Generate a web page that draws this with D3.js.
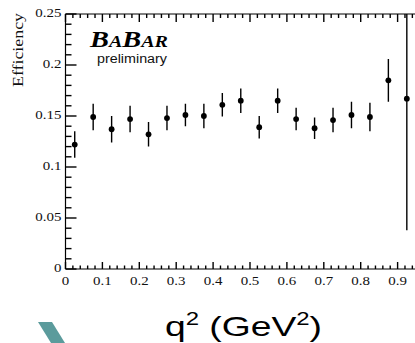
<!DOCTYPE html>
<html>
<head>
<meta charset="utf-8">
<script src="https://cdn.jsdelivr.net/npm/d3@7"></script>
<style>
  html, body { margin: 0; padding: 0; background: #fff; }
  svg { display: block; }
</style>
</head>
<body>
<svg id="chart" width="415" height="343"></svg>
<script>
// Efficiency per q^2 bin (bin centres in GeV^2)
const q2Bins = [0.025, 0.075, 0.125, 0.175, 0.225, 0.275, 0.325, 0.375, 0.425, 0.475,
                0.525, 0.575, 0.625, 0.675, 0.725, 0.775, 0.825, 0.875, 0.925];
const efficiency = [0.122, 0.149, 0.137, 0.147, 0.132, 0.148, 0.151, 0.150, 0.161, 0.165,
                    0.139, 0.165, 0.147, 0.138, 0.146, 0.151, 0.149, 0.185, 0.167];
const effError = [0.013, 0.013, 0.013, 0.013, 0.012, 0.012, 0.011, 0.012, 0.0115, 0.012,
                  0.011, 0.012, 0.011, 0.0105, 0.012, 0.013, 0.014, 0.021, 0.129];

const xMajorTicks = [0, 0.1, 0.2, 0.3, 0.4, 0.5, 0.6, 0.7, 0.8, 0.9];
const xTickLabels = ["0", "0.1", "0.2", "0.3", "0.4", "0.5", "0.6", "0.7", "0.8", "0.9"];
const yMajorTicks = [0, 0.05, 0.1, 0.15, 0.2, 0.25];
const yTickLabels = ["0", "0.05", "0.1", "0.15", "0.2", "0.25"];

const svg = d3.select("#chart");
const serif = "'Liberation Serif', 'DejaVu Serif', serif";
const sans = "'Liberation Sans', Arial, sans-serif";

const x = d3.scaleLinear().domain([0, 1]).range([65.5, 434.5]);
const y = d3.scaleLinear().domain([0, 0.25]).range([269, 14]);

const minorX = d3.range(0, 1.0001, 0.02).filter(v => Math.abs(v * 10 - Math.round(v * 10)) > 1e-6);
const minorY = d3.range(0, 0.2501, 0.01).filter(v => Math.abs(v * 20 - Math.round(v * 20)) > 1e-6);

// frame lines
const frame = svg.append("g").attr("stroke", "#000").attr("stroke-width", 1.2);
frame.append("line").attr("x1", x(0)).attr("x2", x(1)).attr("y1", y(0)).attr("y2", y(0));
frame.append("line").attr("x1", x(0)).attr("x2", x(1)).attr("y1", y(0.25)).attr("y2", y(0.25));
frame.append("line").attr("x1", x(0)).attr("x2", x(0)).attr("y1", y(0)).attr("y2", y(0.25));
frame.append("line").attr("x1", x(1)).attr("x2", x(1)).attr("y1", y(0)).attr("y2", y(0.25));

// inward tick marks on the drawn sides
const tickLayer = svg.append("g").attr("stroke", "#000").attr("stroke-width", 1.4);
function drawXTicks(vals, yBase, len, cls) {
  tickLayer.selectAll("line." + cls).data(vals).join("line").attr("class", cls)
    .attr("x1", d => x(d)).attr("x2", d => x(d))
    .attr("y1", yBase).attr("y2", yBase + len);
}
function drawYTicks(vals, len, cls) {
  tickLayer.selectAll("line." + cls).data(vals).join("line").attr("class", cls)
    .attr("x1", x(0)).attr("x2", x(0) + len)
    .attr("y1", d => y(d)).attr("y2", d => y(d));
}
drawXTicks(xMajorTicks, y(0), -7, "xb-major");
drawXTicks(minorX, y(0), -3.5, "xb-minor");
drawXTicks(xMajorTicks, y(0.25), 8, "xt-major");
drawXTicks(minorX, y(0.25), 4, "xt-minor");
drawYTicks(yMajorTicks, 11, "yl-major");
drawYTicks(minorY, 6, "yl-minor");

// tick labels (wide serif face)
svg.append("g").selectAll("text").data(xMajorTicks).join("text")
  .attr("transform", d => `translate(${x(d)},${y(0) + 13}) scale(1.3,1)`)
  .attr("text-anchor", "middle").attr("dominant-baseline", "middle")
  .attr("font-family", serif).attr("font-size", 11.5).attr("fill", "#111")
  .text((d, i) => xTickLabels[i]);
svg.append("g").selectAll("text").data(yMajorTicks).join("text")
  .attr("transform", d => `translate(${x(0) - 4},${y(d)}) scale(1.3,1)`)
  .attr("text-anchor", "end").attr("dominant-baseline", "middle")
  .attr("font-family", serif).attr("font-size", 11.5).attr("fill", "#111")
  .text((d, i) => yTickLabels[i]);

// plot area clip
svg.append("clipPath").attr("id", "plotClip")
  .append("rect").attr("x", x(0)).attr("y", y(0.25))
  .attr("width", x(1) - x(0)).attr("height", y(0) - y(0.25));

const pts = svg.append("g").attr("clip-path", "url(#plotClip)");
pts.selectAll("line.err").data(q2Bins).join("line")
  .attr("class", "err")
  .attr("x1", d => x(d)).attr("x2", d => x(d))
  .attr("y1", (d, i) => y(efficiency[i] - effError[i]))
  .attr("y2", (d, i) => y(efficiency[i] + effError[i]))
  .attr("stroke", "#000").attr("stroke-width", 1.4);
pts.selectAll("circle").data(q2Bins).join("circle")
  .attr("cx", d => x(d)).attr("cy", (d, i) => y(efficiency[i]))
  .attr("r", 2.9).attr("fill", "#000");

// y axis title
svg.append("text")
  .attr("transform", "translate(23,50) rotate(-90)")
  .attr("text-anchor", "middle")
  .attr("font-family", serif).attr("font-size", 14)
  .attr("textLength", 74).attr("lengthAdjust", "spacingAndGlyphs")
  .attr("fill", "#111")
  .text("Efficiency");

// experiment logo
const logo = svg.append("text")
  .attr("x", 90).attr("y", 47)
  .attr("font-family", serif).attr("font-weight", "bold").attr("font-style", "italic")
  .attr("textLength", 78).attr("lengthAdjust", "spacingAndGlyphs")
  .attr("fill", "#000");
logo.append("tspan").attr("font-size", 24).text("B");
logo.append("tspan").attr("font-size", 17).text("A");
logo.append("tspan").attr("font-size", 24).text("B");
logo.append("tspan").attr("font-size", 17).text("AR");

svg.append("text")
  .attr("x", 97).attr("y", 63)
  .attr("font-family", sans).attr("font-size", 12.5)
  .attr("textLength", 70).attr("lengthAdjust", "spacingAndGlyphs")
  .attr("fill", "#111")
  .text("preliminary");

// x axis title
const xt = svg.append("text")
  .attr("x", 165).attr("y", 336)
  .attr("font-family", sans).attr("font-size", 28)
  .attr("textLength", 157).attr("lengthAdjust", "spacingAndGlyphs")
  .attr("fill", "#000");
xt.append("tspan").text("q");
xt.append("tspan").attr("font-size", 18).attr("dy", -11).text("2");
xt.append("tspan").attr("dy", 11).text(" (GeV");
xt.append("tspan").attr("font-size", 18).attr("dy", -11).text("2");
xt.append("tspan").attr("dy", 11).text(")");

// decorative slide band
svg.append("polygon")
  .attr("points", "38,322 52,322 65,343 51,343")
  .attr("fill", "#5b9b9c");
</script>
</body>
</html>
